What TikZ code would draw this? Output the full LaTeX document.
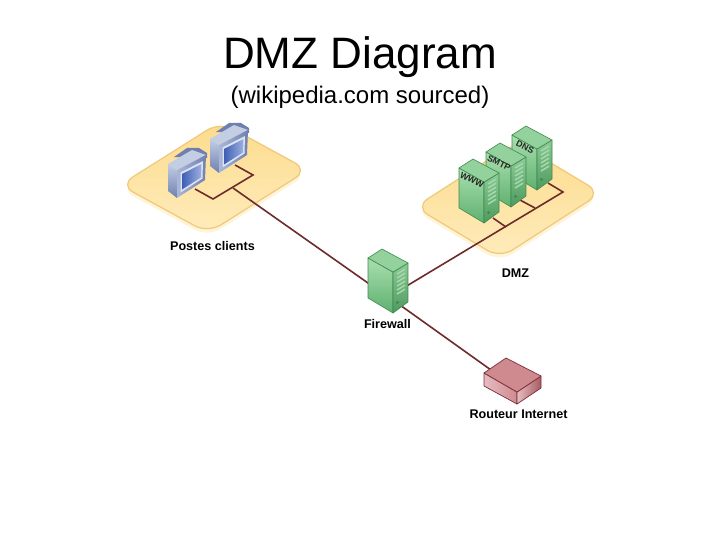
\documentclass[tikz,border=0pt]{standalone}
\usepackage{fontspec}
\setmainfont{Liberation Sans}
\definecolor{wirec}{HTML}{6E2B2B}
\definecolor{platedge}{HTML}{F0C878}
\definecolor{plattop}{HTML}{FCDB8C}
\definecolor{platlow}{HTML}{FFECBC}
\definecolor{twlA}{HTML}{A9DFAE}
\definecolor{twlB}{HTML}{5FB070}
\definecolor{twrA}{HTML}{8CCB96}
\definecolor{twrB}{HTML}{4E9A5E}
\definecolor{twtop}{HTML}{93D29D}
\definecolor{twedge}{HTML}{3F8A50}
\definecolor{twvent}{HTML}{A6D8AE}
\definecolor{moA}{HTML}{C3CDE4}
\definecolor{moB}{HTML}{6F80AE}
\definecolor{moC}{HTML}{A9B8D8}
\definecolor{moF}{HTML}{DCE3F4}
\definecolor{moscrA}{HTML}{3F5FB4}
\definecolor{moscrB}{HTML}{9DB0E0}
\definecolor{rtA}{HTML}{CF8A90}
\definecolor{rtB}{HTML}{E5BCC0}
\definecolor{rtC}{HTML}{A85A62}
\definecolor{rtE}{HTML}{7A2E38}
\tikzset{
  x=1pt,y=-1pt,
  wire/.style={draw=wirec,line width=1.6pt,line join=miter},
  label/.style={font=\fontsize{12.6}{14}\selectfont\bfseries,text=black,inner sep=0pt},
  srvlabel/.style={font=\fontsize{8.8}{9}\selectfont\bfseries,text=black!85,inner sep=0pt,rotate=-26},
  title/.style={font=\fontsize{44}{48}\selectfont,text=black,inner sep=0pt},
  subtitle/.style={font=\fontsize{24}{26}\selectfont,text=black,inner sep=0pt},
  plat/.style={rounded corners=15pt,draw=platedge,line width=1.2pt,top color=plattop,bottom color=platlow},
  glow/.style={rounded corners=15pt,fill=#1},
  tower/.pic={
    \shade[top color=twlA,bottom color=twlB,draw=twedge,line width=.6pt,line join=round]
       (0,0) -- (25,14) -- (25,55) -- (0,40) -- cycle;
    \shade[top color=twrA,bottom color=twrB,draw=twedge,line width=.6pt,line join=round]
       (25,14) -- (40,5) -- (40,44) -- (25,55) -- cycle;
    \fill[twtop,draw=twedge,line width=.6pt,line join=round]
       (0,0) -- (14,-9) -- (40,5) -- (25,14) -- cycle;
    \foreach \k in {0,1,2,3,4,5}
      \draw[twvent,line width=1.5pt] (29,{16+4*\k}) -- (37,{11.2+4*\k});
    \fill[twedge] (29.5,44.5) circle (1.6);
  },
  monitor/.pic={
    \fill[moB,line join=round] (6,-7) -- (19,-16) -- (31,-16) -- (39,-11) -- (39,-6) -- cycle;
    \shade[top color=moA,bottom color=moB,line join=round]
       (0,0) -- (9,6) -- (9,34) -- (0,27) -- cycle;
    \fill[moA,line join=round] (0,0) -- (24,-14) -- (38,-9) -- (9,6) -- cycle;
    \shade[left color=moC,right color=moB,line join=round]
       (9,6) -- (38,-9) -- (37,16) -- (9,34) -- cycle;
    \fill[moF] (12.5,8.5) -- (35,-3) -- (34.5,14.5) -- (12.5,28.5) -- cycle;
    \shade[left color=moscrA,right color=moscrB]
       (14,10) -- (33.5,0) -- (33,13.5) -- (14,25.5) -- cycle;
  },
  routerbox/.pic={
    \shade[left color=rtB,right color=rtA,draw=rtE,line width=.7pt,line join=round]
       (484,373) -- (517,392) -- (517,404) -- (484,386) -- cycle;
    \shade[left color=rtB,right color=rtC,draw=rtE,line width=.7pt,line join=round]
       (517,392) -- (541,376) -- (541,388) -- (517,404) -- cycle;
    \fill[rtA,draw=rtE,line width=.7pt,line join=round]
       (484,373) -- (506,358) -- (541,376) -- (517,392) -- cycle;
  }
}
\begin{document}
\begin{tikzpicture}
\useasboundingbox[fill=white] (0,0) rectangle (720,540);

\node[title] (ttl) at (360,57) {DMZ Diagram};
\node[subtitle] (sub) at (360,97) {(wikipedia.com sourced)};

% platforms
\fill[glow=platlow!60!white,yshift=-4pt] (120,185) -- (220,122) -- (308,170) -- (208,233) -- cycle;
\path[plat] (120,185) -- (220,122) -- (308,170) -- (208,233) -- cycle;
\fill[glow=platlow!60!white,yshift=-4pt] (415,207) -- (516,142) -- (601,193) -- (500,258) -- cycle;
\path[plat] (415,207) -- (516,142) -- (601,193) -- (500,258) -- cycle;

% named connection points
\coordinate (pc1) at (195,189);
\coordinate (lj1) at (213,199);
\coordinate (lj2) at (253,175);
\coordinate (pc2) at (235,165);
\coordinate (lj3) at (233,188);
\coordinate (fwl) at (385,295);
\coordinate (fwr) at (395,293);
\coordinate (fwb) at (393,300);
\coordinate (rt) at (505,380);
\coordinate (dj0) at (563,192);
\coordinate (dns) at (548,183);
\coordinate (dj1) at (535,208);
\coordinate (smtp) at (520,200);
\coordinate (dj2) at (506,227);
\coordinate (www) at (493,218);

% wires
\draw[wire] (pc1) -- (lj1) -- (lj2) -- (pc2);
\draw[wire] (lj3) -- (fwl);
\draw[wire] (fwr) -- (dj0) -- (dns);
\draw[wire] (dj1) -- (smtp);
\draw[wire] (dj2) -- (www);
\draw[wire] (fwb) -- (rt);

% devices
\pic at (210,139) {monitor};
\pic at (168,164) {monitor};
\pic at (512,135) {tower};
\pic at (486,152) {tower};
\pic at (459,168) {tower};
\pic at (368,258) {tower};
\pic {routerbox};

\node[srvlabel] (ldns) at (525,147) {DNS};
\node[srvlabel] (lsmtp) at (499,163) {SMTP};
\node[srvlabel] (lwww) at (472,180) {WWW};

\node[label] (lpc) at (212.5,245.5) {Postes clients};
\node[label] (ldmz) at (515.5,273) {DMZ};
\node[label] (lfw) at (387.5,323.5) {Firewall};
\node[label] (lrt) at (518.5,414.5) {Routeur Internet};
\end{tikzpicture}
\end{document}
